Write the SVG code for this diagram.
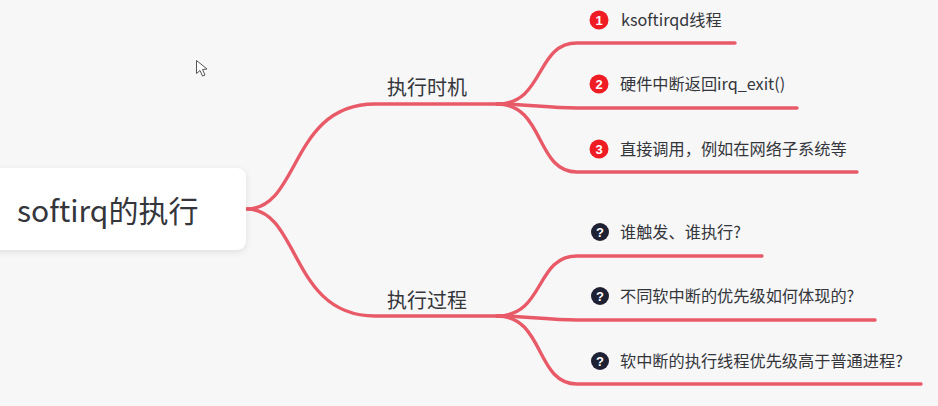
<svg xmlns="http://www.w3.org/2000/svg" width="938" height="406" viewBox="0 0 938 406">
<defs>
<filter id="sh" x="-10%" y="-20%" width="120%" height="140%"><feDropShadow dx="0" dy="2" stdDeviation="3" flood-color="#000" flood-opacity="0.10"/></filter>
</defs>
<style>
text{font-family:"Noto Sans CJK SC","Noto Sans",sans-serif;fill:#34363b}
.l{fill:none;stroke:#e95a68;stroke-width:3.4;stroke-linecap:round}
.t{font-size:16.2px}
.b{font-size:20px}
.m{font-size:30px}
.r{fill:#f01c24}
.d{fill:#1e2033}
.n{font-size:13px;fill:#fff;text-anchor:middle;font-weight:700;font-family:"Liberation Sans",sans-serif}
</style>
<rect width="938" height="406" fill="#f7f7f8"/>
<g id="connectors">
<path class="l" d="M247 209C300 209 290 104 375 104L497 104"/>
<path class="l" d="M247 209C300 209 290 316 375 316L497 316"/>
<path class="l" d="M497 104C545 104 535 43 577 43L735 43"/>
<path class="l" d="M497 104C530 104 545 108 577 108L797 108"/>
<path class="l" d="M497 104C545 104 535 172 577 172L857 172"/>
<path class="l" d="M497 316C545 316 535 256 577 256L762 256"/>
<path class="l" d="M497 316C530 316 545 320 577 320L875 320"/>
<path class="l" d="M497 316C545 316 535 384 577 384L921 384"/>
</g>
<g id="root">
<rect x="-20" y="168" width="266" height="82" rx="9" fill="#fff" filter="url(#sh)"/>
<text class="m" x="17" y="222">softirq的执行</text>
</g>
<g id="timing"><text class="b" x="387" y="95">执行时机</text></g>
<g id="process"><text class="b" x="387" y="308">执行过程</text></g>
<g id="item1"><circle class="r" cx="599" cy="20" r="9.5"/><text class="n" x="599" y="24.500">1</text><text class="t" x="621" y="26">ksoftirqd线程</text></g>
<g id="item2"><circle class="r" cx="599" cy="84" r="9.5"/><text class="n" x="599" y="88.500">2</text><text class="t" x="620" y="90">硬件中断返回irq_exit()</text></g>
<g id="item3"><circle class="r" cx="599" cy="149" r="9.5"/><text class="n" x="599" y="153.500">3</text><text class="t" x="620" y="155">直接调用，例如在网络子系统等</text></g>
<g id="q1"><circle class="d" cx="600" cy="232" r="9"/><text class="n" x="600" y="236.500">?</text><text class="t" x="620" y="238">谁触发、谁执行?</text></g>
<g id="q2"><circle class="d" cx="600" cy="296" r="9"/><text class="n" x="600" y="300.500">?</text><text class="t" x="620" y="302">不同软中断的优先级如何体现的?</text></g>
<g id="q3"><circle class="d" cx="600" cy="361" r="9"/><text class="n" x="600" y="365.500">?</text><text class="t" x="620" y="367">软中断的执行线程优先级高于普通进程?</text></g>
<path d="M196.500 60.500L196.500 73.500L200 70.500L202.500 76L205 75L202.500 69.500L207 69Z" fill="#fff" stroke="#555" stroke-width="1"/>
</svg>
